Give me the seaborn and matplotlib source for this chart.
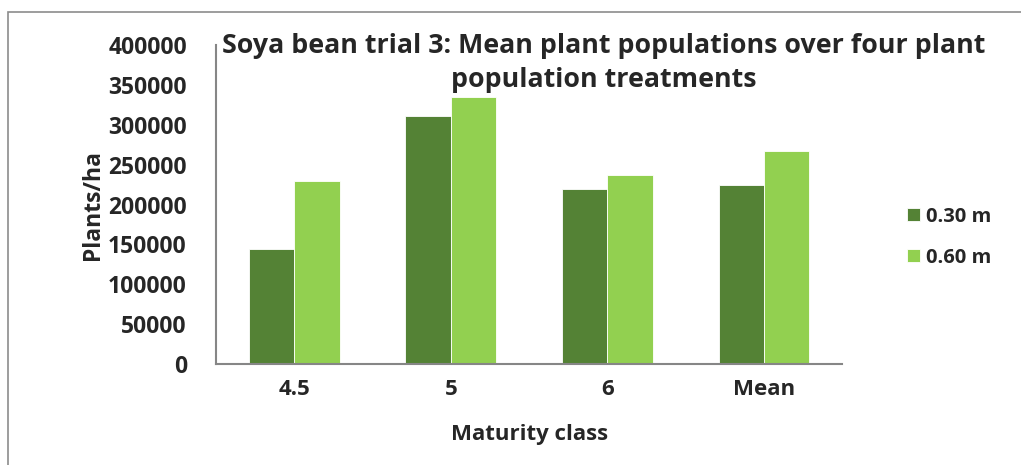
import matplotlib
matplotlib.use("Agg")
import matplotlib.pyplot as plt
import seaborn as sns
import pandas as pd
from matplotlib.patches import Rectangle

# Values
maturity = ["4.5", "5", "6", "Mean"]
spacing = ["0.30 m", "0.60 m"]
plants_030 = [144500, 311000, 219000, 224800]
plants_060 = [229000, 335500, 236500, 267000]
yticks = [0, 50000, 100000, 150000, 200000, 250000, 300000, 350000, 400000]

colors = {"0.30 m": "#548235", "0.60 m": "#92D050"}

df = pd.DataFrame({
    "maturity": maturity * 2,
    "spacing": [spacing[0]] * 4 + [spacing[1]] * 4,
    "plants": plants_030 + plants_060,
})

sns.set_style("white")
plt.rcParams["font.family"] = ["Open Sans", "DejaVu Sans"]
axis_grey = "#868686"

fig = plt.figure(figsize=(10.21, 4.65), dpi=100)
ax = fig.add_axes([0.2115, 0.217, 0.6135, 0.686])

sns.barplot(
    data=df, x="maturity", y="plants", hue="spacing", order=maturity,
    hue_order=spacing, palette=colors, width=0.58, gap=0, ax=ax,
    edgecolor="white", linewidth=0.6, saturation=1,
)

ax.set_xlim(-0.5, 3.5)
ax.set_ylim(0, 400000)
ax.set_yticks(yticks)
ax.set_yticklabels([str(v) for v in yticks], fontsize=16.5, fontweight="bold")
ax.set_xticks(range(len(maturity)))
ax.set_xticklabels(maturity, fontsize=16, fontweight="bold")
ax.set_xticks([-0.5, 0.5, 1.5, 2.5, 3.5], minor=True)
ax.tick_params(axis="x", which="major", length=0, pad=11)
ax.tick_params(axis="x", which="minor", length=7, width=1.2, color=axis_grey, direction="out")
ax.tick_params(axis="y", length=7, width=1.2, color=axis_grey, direction="out", pad=14)

for side in ["top", "right"]:
    ax.spines[side].set_visible(False)
for side in ["left", "bottom"]:
    ax.spines[side].set_color(axis_grey)
    ax.spines[side].set_linewidth(1.5)

ax.set_xlabel("Maturity class", fontsize=16, fontweight="bold", labelpad=17)
ax.set_ylabel("Plants/ha", fontsize=16.5, fontweight="bold", labelpad=2)

fig.text(0.591, 0.93, "Soya bean trial 3: Mean plant populations over four plant\npopulation treatments",
         ha="center", va="top", fontsize=19.3, fontweight="bold", linespacing=1.4)

leg = ax.legend(loc="center left", bbox_to_anchor=(1.075, 0.398), frameon=False,
                fontsize=14.5, handlelength=0.6, handleheight=0.6, handletextpad=0.3,
                labelspacing=1.05)
for t in leg.get_texts():
    t.set_fontweight("bold")

# chart area frame
fig.patches.append(Rectangle((8 / 1021, -0.1), 1.2, 1 - 12 / 465 + 0.1, transform=fig.transFigure,
                             fill=False, edgecolor="#8c8c8c", linewidth=1.2, zorder=0))

fig.savefig("out.png", dpi=100)
